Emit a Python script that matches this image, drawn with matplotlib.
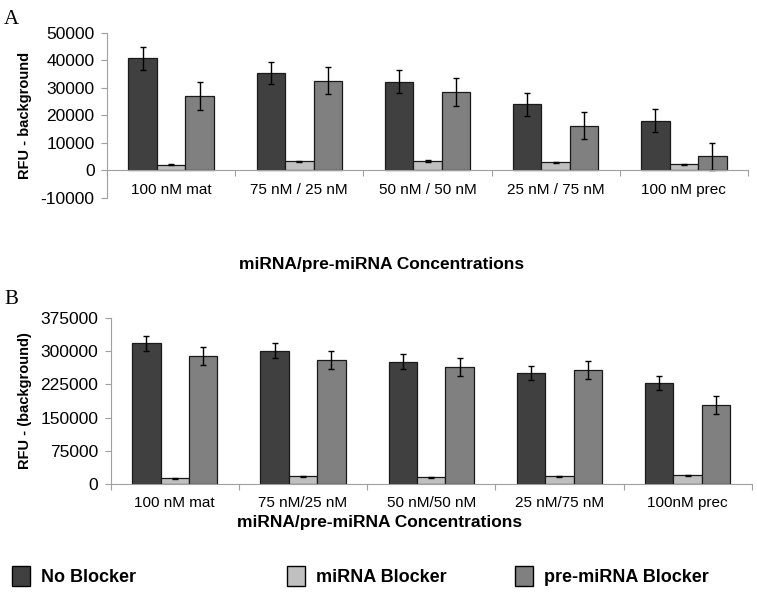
import matplotlib
matplotlib.use("Agg")
import matplotlib.pyplot as plt
import numpy as np
from matplotlib.patches import Patch

plt.rcParams['font.family'] = ['Liberation Sans', 'DejaVu Sans']

cats_a = ["100 nM mat", "75 nM / 25 nM", "50 nM / 50 nM", "25 nM / 75 nM", "100 nM prec"]
cats_b = ["100 nM mat", "75 nM/25 nM", "50 nM/50 nM", "25 nM/75 nM", "100nM prec"]
series = ["No Blocker", "miRNA Blocker", "pre-miRNA Blocker"]
colors = ["#404040", "#c0c0c0", "#808080"]

a_no = [40700, 35400, 32200, 24000, 18100]
a_no_err = [4100, 4000, 4100, 4100, 4100]
a_mi = [2100, 3300, 3500, 2900, 2200]
a_mi_err = [300, 300, 300, 300, 300]
a_pre = [27000, 32600, 28400, 16300, 5200]
a_pre_err = [5000, 5000, 5000, 5000, 4900]

b_no = [318000, 301600, 276000, 251000, 228300]
b_no_err = [16600, 17000, 17000, 16000, 16000]
b_mi = [12000, 16800, 14500, 16800, 19000]
b_mi_err = [1000, 1000, 1000, 1000, 1000]
b_pre = [289000, 281000, 264600, 258500, 179000]
b_pre_err = [20000, 20000, 20000, 20000, 20000]

W, H = 757, 592
fig = plt.figure(figsize=(W / 100, H / 100), dpi=100)

def box(l, r, t, b):
    return [l / W, 1 - b / H, (r - l) / W, (b - t) / H]

ax_a = fig.add_axes(box(107, 748, 32.7, 198))
ax_b = fig.add_axes(box(110.7, 751.7, 318.3, 483.7))

bw = 0.222
x = np.arange(5)

def draw(ax, vals, errs, cats, ylim, yticks):
    for i, (v, e) in enumerate(zip(vals, errs)):
        ax.bar(x + (i - 1) * bw, v, bw, color=colors[i], edgecolor="#1a1a1a",
               linewidth=0.9, yerr=e, error_kw=dict(ecolor="black", elinewidth=1.0,
                                                      capsize=2.5, capthick=1.0),
               zorder=2)
    ax.set_xlim(-0.5, 4.5)
    ax.set_ylim(*ylim)
    ax.set_yticks(yticks)
    ax.set_yticklabels([str(t) for t in yticks], fontsize=12.5)
    ax.spines["top"].set_visible(False)
    ax.spines["right"].set_visible(False)
    ax.spines["left"].set_color("#a0a0a0")
    ax.spines["bottom"].set_color("#a0a0a0")
    ax.spines["bottom"].set_position(("data", 0))
    ax.spines["bottom"].set_zorder(3)
    ax.tick_params(axis="y", colors="#a0a0a0", labelcolor="black", length=4, width=0.8, pad=5)
    ax.set_xticks(x)
    ax.set_xticklabels(cats, fontsize=11)
    ax.tick_params(axis="x", length=0, pad=9)
    ax.set_xticks(np.arange(-0.5, 5, 1), minor=True)
    ax.tick_params(axis="x", which="minor", length=4, width=0.8, colors="#a0a0a0")

draw(ax_a, [a_no, a_mi, a_pre], [a_no_err, a_mi_err, a_pre_err], cats_a,
     (-10000, 50000), [-10000, 0, 10000, 20000, 30000, 40000, 50000])
draw(ax_b, [b_no, b_mi, b_pre], [b_no_err, b_mi_err, b_pre_err], cats_b,
     (0, 375000), [0, 75000, 150000, 225000, 300000, 375000])

ax_a.set_ylabel("RFU - background", fontsize=10.5, fontweight="bold", labelpad=6)
ax_b.set_ylabel("RFU - (background)", fontsize=10.5, fontweight="bold", labelpad=6)

fig.text(382 / W, 1 - 265 / H, "miRNA/pre-miRNA Concentrations", ha="center", va="center",
         fontsize=12.5, fontweight="bold")
fig.text(380 / W, 1 - 523 / H, "miRNA/pre-miRNA Concentrations", ha="center", va="center",
         fontsize=12.5, fontweight="bold")

fig.text(4 / W, 1 - 19 / H, "A", fontsize=15, family="Liberation Serif", va="center")
fig.text(4 / W, 1 - 299 / H, "B", fontsize=15, family="Liberation Serif", va="center")

leg_x = [5, 280, 508]
for i in range(3):
    h = Patch(facecolor=colors[i], edgecolor="black", linewidth=1.0)
    lg = fig.legend([h], [series[i]], loc="center left",
                    bbox_to_anchor=(leg_x[i] / W, 1 - 576 / H), frameon=False,
                    prop=dict(size=13, weight="bold"), handlelength=1.0,
                    handleheight=1.4, handletextpad=0.6, borderaxespad=0)

fig.savefig("out.png", dpi=100)
